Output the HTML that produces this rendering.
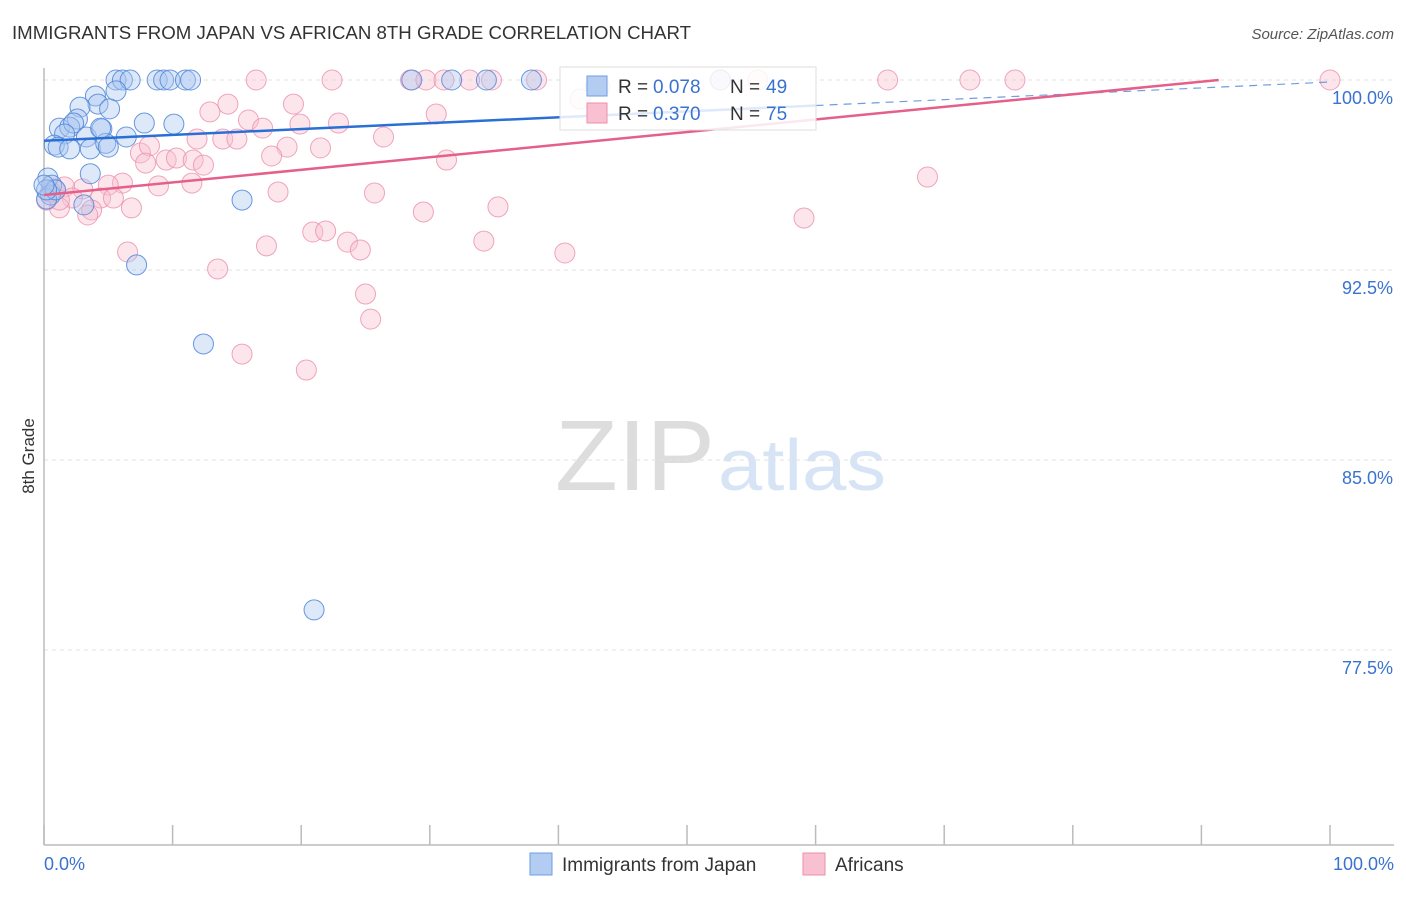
<!DOCTYPE html>
<html><head><meta charset="utf-8"><style>
body{margin:0;background:#fff;font-family:"Liberation Sans",sans-serif;}
svg text{font-family:"Liberation Sans",sans-serif;}
</style></head><body>
<svg width="1406" height="892" xmlns="http://www.w3.org/2000/svg">
<text x="12" y="39" font-size="18" fill="#333" textLength="679" lengthAdjust="spacingAndGlyphs">IMMIGRANTS FROM JAPAN VS AFRICAN 8TH GRADE CORRELATION CHART</text>
<text x="1394" y="39" font-size="15" fill="#555" font-style="italic" text-anchor="end">Source: ZipAtlas.com</text>
<text x="555" y="490" font-size="100" fill="#ddd" textLength="160" lengthAdjust="spacingAndGlyphs" font-family="Liberation Serif">ZIP</text>
<text x="718" y="490" font-size="72" fill="#d6e4f5" textLength="168" lengthAdjust="spacingAndGlyphs">atlas</text>
<g id="grid"></g><g id="axes"></g><g id="pts"></g><g id="lines"></g>
<text transform="translate(34,456) rotate(-90)" font-size="17" fill="#333" text-anchor="middle">8th Grade</text>
<text x="44" y="870" font-size="18" fill="#3a72d0">0.0%</text>
<text x="1394" y="870" font-size="18" fill="#3a72d0" text-anchor="end">100.0%</text>
<g>
<rect x="560" y="67" width="256" height="63" fill="#fff" fill-opacity="0.85" stroke="#ddd"/>
<rect x="587" y="76" width="20" height="20" fill="#b3cdf2" stroke="#6f9de0"/>
<text x="618" y="93" font-size="19" fill="#333">R = </text><text x="653" y="93" font-size="19" fill="#3a72d0">0.078</text>
<text x="730" y="93" font-size="19" fill="#333">N = </text><text x="766" y="93" font-size="19" fill="#3a72d0">49</text>
<rect x="587" y="103" width="20" height="20" fill="#f8c0d0" stroke="#eb8fae"/>
<text x="618" y="120" font-size="19" fill="#333">R = </text><text x="653" y="120" font-size="19" fill="#3a72d0">0.370</text>
<text x="730" y="120" font-size="19" fill="#333">N = </text><text x="766" y="120" font-size="19" fill="#3a72d0">75</text>
</g>
<g>
<rect x="530" y="853" width="22" height="22" fill="#b3cdf2" stroke="#6f9de0"/>
<text x="562" y="871" font-size="19" fill="#333">Immigrants from Japan</text>
<rect x="803" y="853" width="22" height="22" fill="#f8c0d0" stroke="#eb8fae"/>
<text x="835" y="871" font-size="19" fill="#333">Africans</text>
</g>
</svg>
<script>
const yTicks=[100,92.5,85,77.5];
const yTickLabels=["100.0%","92.5%","85.0%","77.5%"];
const xTicks=[0,10,20,30,40,50,60,70,80,90,100];
const japanX=[5.6,6.1,6.7,8.8,9.3,9.8,11.0,11.4,28.6,31.7,34.4,37.9,52.6,5.6,4.0,4.2,2.8,5.1,2.6,1.2,2.0,2.3,1.6,3.3,6.4,4.5,7.8,10.1,0.8,1.1,2.0,3.6,4.8,5.0,3.6,0.3,0.6,0.5,0.2,3.1,15.4,7.2,12.4,21.0,42.9,0.9,4.4,0.2,0.0];
const japanY=[100,100,100,100,100,100,100,100,100,100,100,100,100,99.57,99.37,99.05,98.93,98.86,98.46,98.1,98.14,98.3,97.87,97.75,97.75,98.07,98.3,98.26,97.43,97.35,97.28,97.28,97.5,97.35,96.3,96.13,95.85,95.46,95.3,95.07,95.26,92.7,89.58,79.08,99.76,95.66,98.1,95.66,95.85];
const afrX=[16.5,22.4,28.5,29.7,31.1,33.1,34.8,38.3,52.6,55.5,65.6,72.0,75.5,100,41.7,43.2,12.9,14.3,19.4,15.9,17.0,19.9,22.9,30.5,13.9,15.0,11.9,26.4,18.9,21.5,7.5,8.2,17.7,9.5,10.3,11.6,12.4,31.3,7.9,6.1,5.0,3.0,0.8,1.6,8.9,11.5,18.2,25.7,4.4,2.2,5.4,6.8,3.7,3.4,1.2,29.5,35.3,59.1,68.7,20.9,21.9,23.6,24.6,17.3,6.5,34.2,40.5,13.5,25.0,25.4,15.4,20.4,0.5,0.2,1.2];
const afrY=[100,100,100,100,100,100,100,100,100,100,100,100,100,100,99.25,99.76,98.74,99.05,99.05,98.42,98.1,98.26,98.3,98.66,97.67,97.67,97.67,97.75,97.35,97.32,97.12,97.4,97.0,96.84,96.92,96.84,96.64,96.84,96.72,95.93,95.85,95.7,95.7,95.78,95.82,95.93,95.58,95.54,95.34,95.34,95.34,94.95,94.87,94.67,94.95,94.79,94.99,94.55,96.17,94.0,94.04,93.6,93.29,93.45,93.21,93.64,93.17,92.54,91.55,90.56,89.18,88.55,95.58,95.26,95.26];
const japanTrend=[97.6,99.92];
const afrTrend=[95.46,0.0497];
const NS="http://www.w3.org/2000/svg";
const X=p=>44+p*12.86, Y=v=>80+(100-v)*25.33;
function mk(t,a,p){const e=document.createElementNS(NS,t);for(const k in a)e.setAttribute(k,a[k]);document.getElementById(p).appendChild(e);return e;}
yTicks.forEach((v,i)=>{
 const l=mk('line',{x1:44,x2:1394,y1:Y(v),y2:Y(v),stroke:'#e2e2e2','stroke-dasharray':'4,4'},'grid');
 
 
 const t=mk('text',{x:1393,y:Y(v)+24,'font-size':18,fill:'#3a72d0','text-anchor':'end'},'grid');
 t.textContent=yTickLabels[i];
 
 
});
const ax=mk('line',{x1:44,x2:44,y1:68,y2:845,stroke:'#bbb','stroke-width':1.5},'axes');


const bx=mk('line',{x1:44,x2:1394,y1:845,y2:845,stroke:'#bbb','stroke-width':1.5},'axes');


xTicks.forEach(p=>{const t=mk('line',{x1:X(p),x2:X(p),y1:825,y2:845,stroke:'#bbb','stroke-width':1.5},'axes');
 
 });
afrX.forEach((p,i)=>{const c=mk('circle',{cx:X(p),cy:Y(afrY[i]),r:10,fill:'#f8c0d0','fill-opacity':0.4,stroke:'#eb8fae','stroke-width':1,'stroke-opacity':0.8},'pts');
 
 });
japanX.forEach((p,i)=>{const c=mk('circle',{cx:X(p),cy:Y(japanY[i]),r:10,fill:'#a9c6f0','fill-opacity':0.4,stroke:'#4f86d8','stroke-width':1,'stroke-opacity':0.85},'pts');
 
 });
const jv=p=>japanTrend[0]+(japanTrend[1]-japanTrend[0])*p/100;
const l1=mk('line',{x1:X(0),y1:Y(jv(0)),x2:X(60),y2:Y(jv(60)),stroke:'#2a6fd6','stroke-width':2.5},'lines');


const l2=mk('line',{x1:X(60),y1:Y(jv(60)),x2:X(100),y2:Y(jv(100)),stroke:'#6f9de0','stroke-width':1.2,'stroke-dasharray':'8,6'},'lines');


const pEnd=(100-afrTrend[0])/afrTrend[1];
const l3=mk('line',{x1:X(0),y1:Y(afrTrend[0]),x2:X(pEnd),y2:Y(100),stroke:'#e4608a','stroke-width':2.5},'lines');


</script>
</body></html>
